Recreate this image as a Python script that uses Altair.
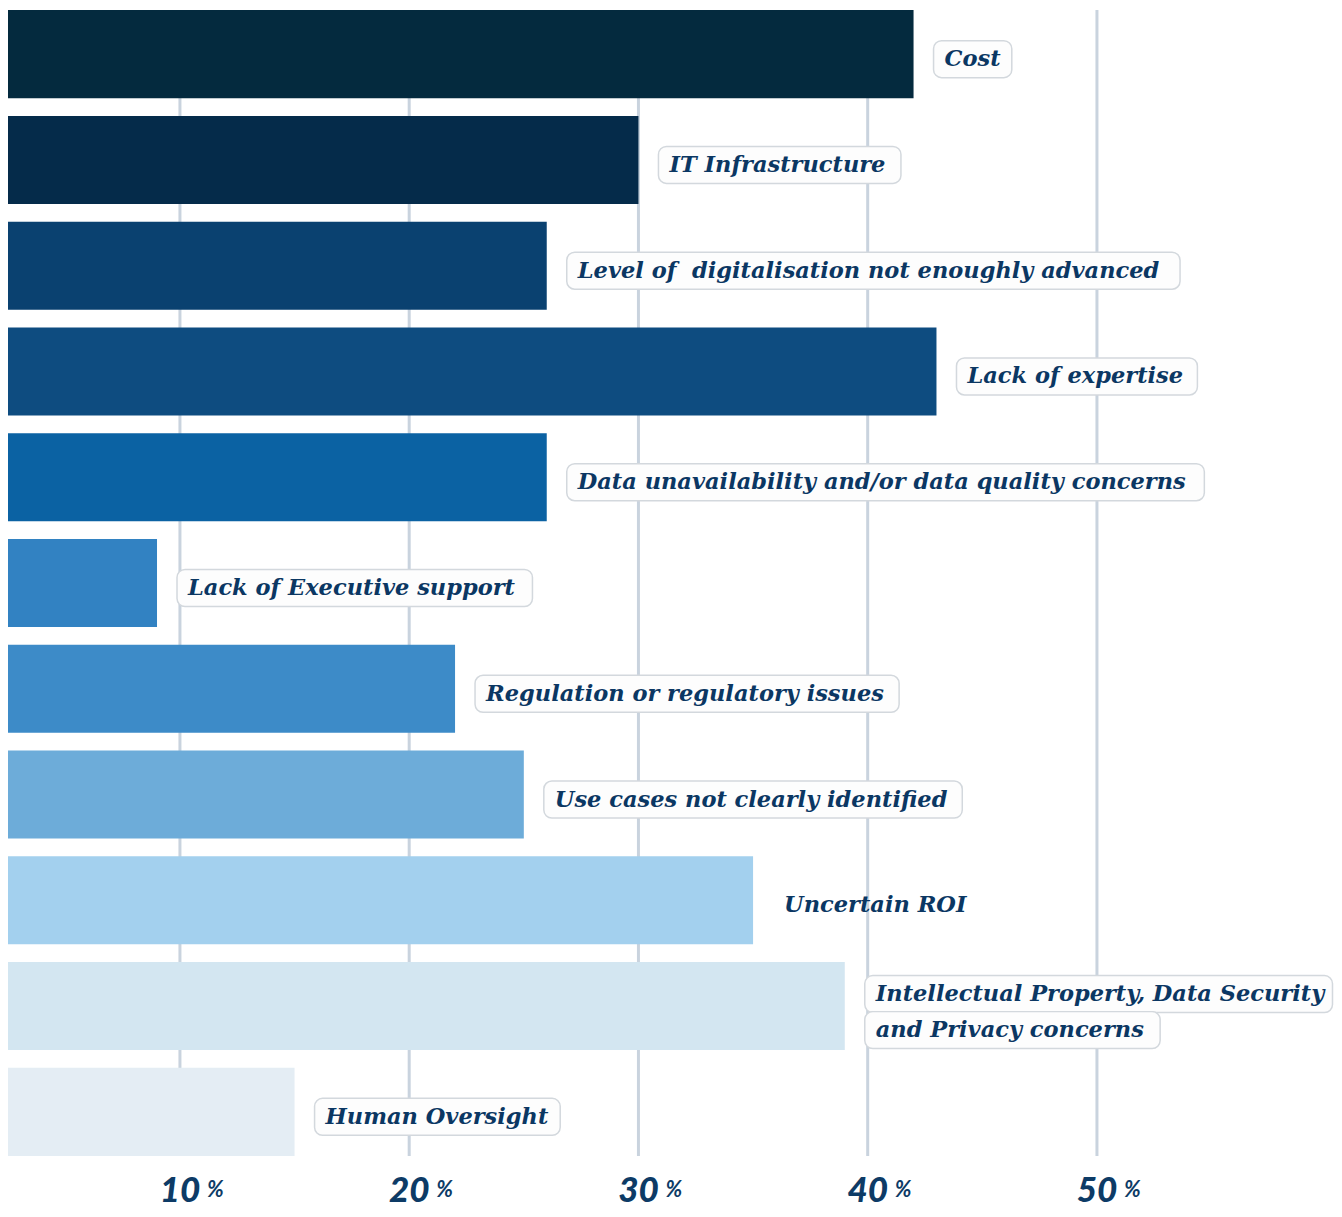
import altair as alt
import pandas as pd

# ---------------- data ----------------
categories = [
    "Cost",
    "IT Infrastructure",
    "Level of\u00a0 digitalisation not enoughly advanced",
    "Lack of expertise",
    "Data unavailability and/or data quality concerns",
    "Lack of Executive support",
    "Regulation or regulatory issues",
    "Use cases not clearly identified",
    "Uncertain ROI",
    "Intellectual Property, Data Security\nand Privacy concerns",
    "Human Oversight",
]
values = [42, 30, 26, 43, 26, 9, 22, 25, 35, 39, 15]
boxed = [True, True, True, True, True, True, True, True, False, True, True]
colors = ["#042a3e", "#052b4a", "#0a4170", "#0e4c80", "#0b62a3", "#3282c2",
          "#3d8bc8", "#6dacd9", "#a3d0ee", "#d3e6f1", "#e4edf4"]
ticks = [10, 20, 30, 40, 50]

# ---------------- layout ----------------
W, H = 1326, 1150
PAD_BOTTOM = 51
DMIN, DMAX = 2.5, 60.34
PPU = W / (DMAX - DMIN)
GAP, PAD = 20, 11
BOXH = 37
TXT = "#0b3763"
LABEL_FONT = "DejaVu Serif"
LABEL_SIZE = 22.5

# approximate advance widths (em) of the label font, used to size the boxes
EM = {**{c: 0.65 for c in "abcdefghijklmnopqrstuvwxyz"},
      "i": 0.38, "l": 0.38, "j": 0.38, "t": 0.47, "f": 0.44, "r": 0.53,
      "s": 0.59, "c": 0.59, "e": 0.63, "o": 0.64, "a": 0.65, "n": 0.76,
      "u": 0.76, "h": 0.76, "m": 1.11, "g": 0.70, "d": 0.70, "b": 0.70,
      "p": 0.70, "q": 0.70, "k": 0.70, "w": 0.92, "z": 0.58,
      " ": 0.35, "\u00a0": 0.35, ",": 0.38, "/": 0.37, "I": 0.47, "M": 1.0}


def text_px(s):
    tot = 0.0
    for ch in s:
        if ch in EM:
            tot += EM[ch]
        elif ch.isupper():
            tot += 0.80
        else:
            tot += 0.6
    return tot * LABEL_SIZE


keys = [f"c{i:02d}" for i in range(len(categories))]
bars = pd.DataFrame({"key": keys, "start": 0, "value": values})

rows = []
for k, c, v, b in zip(keys, categories, values, boxed):
    lines = c.split("\n")
    for li, ln in enumerate(lines):
        bx = v + GAP / PPU
        bx2 = min(v + (GAP + text_px(ln) + 2 * PAD) / PPU, DMAX - 1.5 / PPU)
        rows.append({"key": k, "value": v, "line": ln, "nl": len(lines), "li": li,
                     "boxed": b, "bx": bx, "bx2": bx2,
                     "fx": bx + 1.6 / PPU, "fx2": bx2 - 1.6 / PPU})
lab = pd.DataFrame(rows)
tick_df = pd.DataFrame({"tick": ticks, "num": [str(t) for t in ticks], "pct": "%"})

xscale = alt.Scale(domain=[DMIN, DMAX], nice=False, zero=False)
yscale = alt.Scale(paddingInner=0.167, paddingOuter=0.02)
Y = alt.Y("key:N", sort=None, axis=None, scale=yscale)

grid_layer = alt.Chart(tick_df).mark_rule(color="#c9d3de", strokeWidth=3).encode(
    x=alt.X("tick:Q", scale=xscale, axis=None),
    y=alt.value(2), y2=alt.value(H - 2),
)

bar_layer = alt.Chart(bars).mark_bar(clip=True).encode(
    x=alt.X("start:Q", axis=None),
    x2="value:Q",
    y=Y,
    color=alt.Color("key:N", scale=alt.Scale(domain=keys, range=colors), legend=None),
)

layers = [grid_layer, bar_layer]
groups = [(1, 0, 5), (2, 0, -12), (2, 1, 24)]
for nl, li, off in groups:
    sub = lab[(lab.nl == nl) & (lab.li == li)]
    subb = sub[sub.boxed]
    if len(subb):
        layers.append(alt.Chart(subb).mark_bar(
            size=BOXH, yOffset=off, cornerRadius=8, fill="#fdfdfd",
            stroke="#d3d8dd", strokeWidth=1.5).encode(
            x=alt.X("bx:Q", axis=None), x2="bx2:Q", y=Y))
for nl, li, off in groups:
    sub = lab[(lab.nl == nl) & (lab.li == li)]
    subb = sub[sub.boxed]
    if len(subb):
        layers.append(alt.Chart(subb).mark_bar(
            size=BOXH - 3.2, yOffset=off, cornerRadius=7, fill="#fdfdfd",
            strokeWidth=0).encode(
            x=alt.X("fx:Q", axis=None), x2="fx2:Q", y=Y))
for nl, li, off in groups:
    sub = lab[(lab.nl == nl) & (lab.li == li)]
    if len(sub):
        layers.append(alt.Chart(sub).mark_text(
            align="left", baseline="middle", dx=GAP + PAD, dy=off,
            font=LABEL_FONT, fontSize=LABEL_SIZE, fontStyle="italic",
            fontWeight="bold", color=TXT).encode(
            x=alt.X("value:Q", axis=None), y=Y, text="line:N"))

num_layer = alt.Chart(tick_df).mark_text(
    align="center", baseline="middle", font="Lato", fontSize=35,
    fontStyle="italic", fontWeight=900, color="#0d3b66").encode(
    x=alt.X("tick:Q", axis=None), y=alt.value(H + 33), text="num:N")
pct_layer = alt.Chart(tick_df).mark_text(
    align="left", baseline="middle", dx=27, dy=-1, font="Lato", fontSize=22,
    fontStyle="italic", fontWeight="bold", color="#0d3b66").encode(
    x=alt.X("tick:Q", axis=None), y=alt.value(H + 33), text="pct:N")
layers += [num_layer, pct_layer]

chart = alt.layer(*layers).properties(
    width=W, height=H,
    padding={"left": 0, "top": 0, "right": 0, "bottom": PAD_BOTTOM},
    autosize=alt.AutoSizeParams(type="none"),
    background="white",
).configure_view(stroke=None)

chart.save("out.html", embed_options={"renderer": "svg", "actions": False})
